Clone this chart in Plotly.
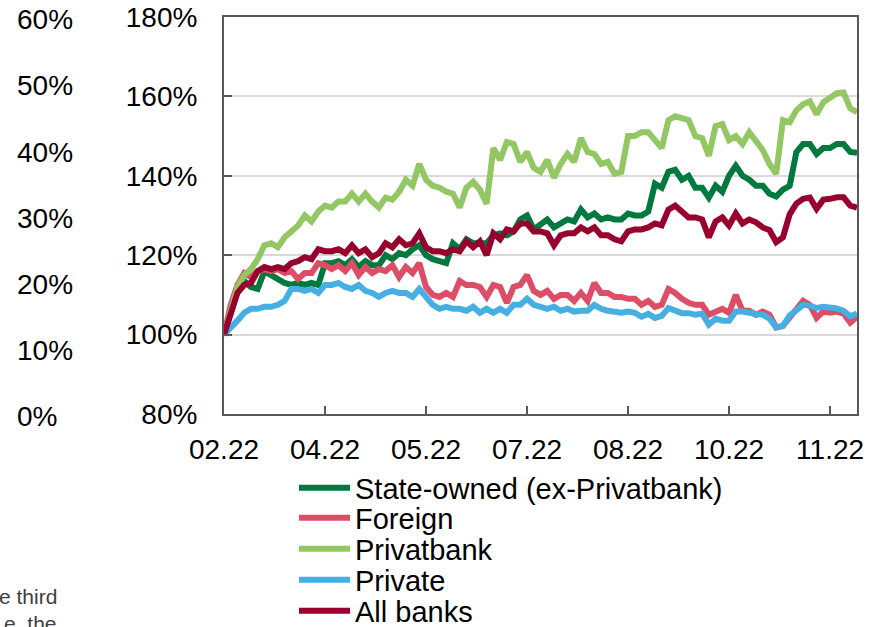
import plotly.graph_objects as go
import pandas as pd

# ---- data (index, 24.02.2022 = 100%), read every 3 days ----
start_date = "2022-02-24"
n_points = 95
dates = pd.date_range(start_date, periods=n_points, freq="3D")

state_owned = [100, 105.5, 111, 113.5, 112, 111.5, 116, 115, 114, 113, 112.5, 113, 112.5, 113, 112.5, 118,
               118, 118.5, 117.5, 119, 117, 118.5, 117.5, 117.5, 120, 119, 120.5, 120, 121.5, 122.5, 120,
               119, 118.5, 118, 123, 121.5, 124, 123, 123, 123, 125, 125.5, 125, 126, 129, 130, 126.5, 128,
               129, 127, 128, 129, 128.5, 131.5, 129.5, 130.5, 129, 129.5, 129, 129, 130.5, 130, 130,
               131, 138, 137, 141, 141.5, 139, 140, 137, 137, 134.5, 137.5, 136, 140, 142.5, 140,
               139, 137.5, 137.5, 135.5, 134.8, 136.5, 137.5, 146, 148, 148, 145.5, 147, 147, 148, 148, 146, 145.8]

foreign = [100, 107.5, 112.5, 115.5, 114.5, 116, 116.5, 116, 116.5, 115.5, 116, 114, 115.5, 115.5, 118, 117.5,
           116.5, 117.5, 116, 118, 115, 117, 115.5, 116.5, 116, 117.5, 114.5, 117, 115.5, 118, 112,
           110, 109.5, 110.5, 109.5, 113.5, 112.5, 112.5, 112, 109.5, 112.5, 112, 108, 112, 112.5, 115, 111, 110,
           111, 109, 110, 110, 108.5, 110.5, 108.5, 113, 110.5, 110.5, 109.5, 109.5, 109, 109, 107.5,
           108.5, 107, 107.5, 111.5, 110.5, 109, 108, 107.5, 107.5, 105, 105.8, 106.5, 105.5, 110, 106,
           106, 105, 105.8, 105, 101.8, 102.2, 104.5, 106.5, 108.5, 107.5, 104.2, 105.8, 105.5, 105.8, 105.3, 103, 104.5]

privatbank = [100, 106.5, 112, 115, 116.5, 119, 122.5, 123, 122, 124.5, 126, 127.5, 130, 128.5, 131, 132.5,
              132, 133.5, 133.5, 135.5, 133.5, 135.5, 133.5, 132, 134.5, 134, 136, 139, 137.5, 143, 139,
              137.5, 137, 136, 135.5, 132, 137, 138.5, 136.5, 133, 147, 144, 148.5, 148, 143.5, 146, 142, 141,
              144, 139.5, 143, 145.5, 143.5, 149.5, 146, 145.5, 143, 143.5, 140.5, 141, 150, 150, 151,
              151, 149, 147, 154, 155, 154.5, 154, 150, 149.5, 145, 152.5, 153, 149, 150, 148,
              151, 149, 146.5, 143, 140.5, 154, 153.5, 156.5, 158, 158.75, 155.5, 158.5, 159.5, 160.8, 161, 157, 156]

private = [100, 101.5, 103.5, 105.5, 106.5, 106.5, 107, 107, 107.5, 108.5, 111.5, 111.5, 111, 111.5, 110.5, 112.5,
           112.5, 113, 112, 111.5, 112.5, 111, 110.5, 109.5, 110.5, 111, 110.5, 110.5, 109.5, 111.5, 109.5,
           107.5, 106.5, 107, 106.5, 106.5, 106, 107, 105.5, 106.5, 105.5, 106.5, 105.5, 107.5, 107.5, 109, 107.5, 107,
           106.5, 107, 106, 106.5, 105.8, 106, 106, 107.5, 106.5, 106, 105.8, 105.5, 105.8, 105.5, 104.5,
           105.2, 104.2, 104.7, 106.7, 106, 105.4, 105.4, 105, 105.3, 102.5, 104, 103.5, 103.5, 105.8, 105.8,
           105.4, 105.2, 105, 104, 101.8, 102.2, 104.8, 106.3, 107.5, 107.3, 106.7, 107, 106.8, 106.6, 106, 104.6, 105.3]

all_banks = [100, 105.5, 110.5, 112.5, 113, 116, 117, 116.5, 117, 116.5, 118, 118.5, 119.5, 119, 121.5, 121,
             121, 121.5, 120.5, 122.5, 120.5, 121.5, 119.5, 120.5, 123, 122, 124, 122.5, 123, 125.5, 122,
             121, 121, 120.5, 121.5, 121, 123.5, 122, 123.5, 120, 125.5, 124, 126.5, 126, 128, 128, 126, 126,
             125.5, 122.5, 125, 125.5, 125.5, 127, 126, 127, 125, 125, 124, 123.5, 126, 126.5, 126.5,
             127, 128, 127.5, 131.5, 132.5, 131, 129.5, 129.5, 129, 124.5, 128.5, 129.5, 127.5, 130.5, 128,
             129, 128.3, 127, 126.3, 123.3, 124.5, 130.3, 133, 134.2, 134.5, 131.7, 134, 134.2, 134.6, 134.6, 132.5, 132]

series_names = ["State-owned (ex-Privatbank)", "Foreign", "Privatbank", "Private", "All banks"]
series_values = [state_owned, foreign, privatbank, private, all_banks]
series_colors = ["#00793F", "#DE4D66", "#92C763", "#45AFE4", "#98002E"]

tick_dates = ["2022-02-24", "2022-04-10", "2022-05-25", "2022-07-09", "2022-08-23", "2022-10-07", "2022-11-21"]
tick_labels = ["02.22", "04.22", "05.22", "07.22", "08.22", "10.22", "11.22"]
x_range = ["2022-02-24", "2022-12-03"]

y_ticks = [80, 100, 120, 140, 160, 180]
y_tick_labels = ["80%", "100%", "120%", "140%", "160%", "180%"]
left_labels = ["60%", "50%", "40%", "30%", "20%", "10%", "0%"]
side_notes = ["e third", "e, the"]

# ---- figure ----
W, H = 880, 627
L, R, T, B = 224, 23, 17, 213
pw, ph = W - L - R, H - T - B
FONT = "Liberation Sans, Arial, sans-serif"
FS = 28

def px_x(x):
    return (x - L) / pw

def px_y(y):
    return (H - B - y) / ph

fig = go.Figure()
legend_ids = ["legend", "legend2", "legend3", "legend4", "legend5"]
for name, vals, col, lg in zip(series_names, series_values, series_colors, legend_ids):
    fig.add_trace(go.Scatter(x=dates, y=vals, mode="lines", name=name,
                             line=dict(color=col, width=6), legend=lg))

row_centers = [488, 518, 549, 580, 611]
legend_layout = {}
for lg, yc in zip(legend_ids, row_centers):
    legend_layout[lg] = dict(x=px_x(294), y=px_y(yc), xanchor="left", yanchor="middle",
                             xref="paper", yref="paper",
                             font=dict(family=FONT, size=29, color="#000000"),
                             bgcolor="rgba(0,0,0,0)", borderwidth=0, itemwidth=51,
                             itemclick=False, itemdoubleclick=False)

annotations = []
left_centers = [19.5, 85, 152, 218, 284, 350, 416]
for t, yc in zip(left_labels, left_centers):
    annotations.append(dict(text=t, xref="paper", yref="paper", x=px_x(15), y=px_y(yc),
                            xanchor="left", yanchor="middle", showarrow=False,
                            font=dict(family=FONT, size=FS, color="#000000")))
for t, yc in zip(side_notes, [596, 623]):
    annotations.append(dict(text=t, xref="paper", yref="paper", x=px_x(59), y=px_y(yc),
                            xanchor="right", yanchor="middle", showarrow=False,
                            font=dict(family=FONT, size=21, color="#404040")))

fig.update_layout(
    width=W, height=H,
    margin=dict(l=L, r=R, t=T, b=B, autoexpand=False),
    paper_bgcolor="white", plot_bgcolor="white",
    showlegend=True,
    annotations=annotations,
    **legend_layout,
)

fig.update_xaxes(type="date", range=x_range, tickvals=tick_dates, ticktext=tick_labels,
                 showgrid=False, zeroline=False,
                 showline=True, linecolor="#595959", linewidth=2, mirror=True,
                 ticks="inside", ticklen=8, tickwidth=1.5, tickcolor="#595959",
                 ticklabelstandoff=9,
                 tickfont=dict(family=FONT, size=FS, color="#000000"))
fig.update_yaxes(range=[80, 180], tickvals=y_ticks, ticktext=y_tick_labels,
                 showgrid=True, gridcolor="#D9D9D9", gridwidth=1.5, zeroline=False,
                 showline=True, linecolor="#595959", linewidth=2, mirror=True,
                 ticks="inside", ticklen=8, tickwidth=1.5, tickcolor="#595959",
                 ticklabelstandoff=19,
                 tickfont=dict(family=FONT, size=FS, color="#000000"))

fig.write_html("out.html", config={"displayModeBar": False},
               post_script="document.body.style.margin='0';document.body.style.padding='0';")
